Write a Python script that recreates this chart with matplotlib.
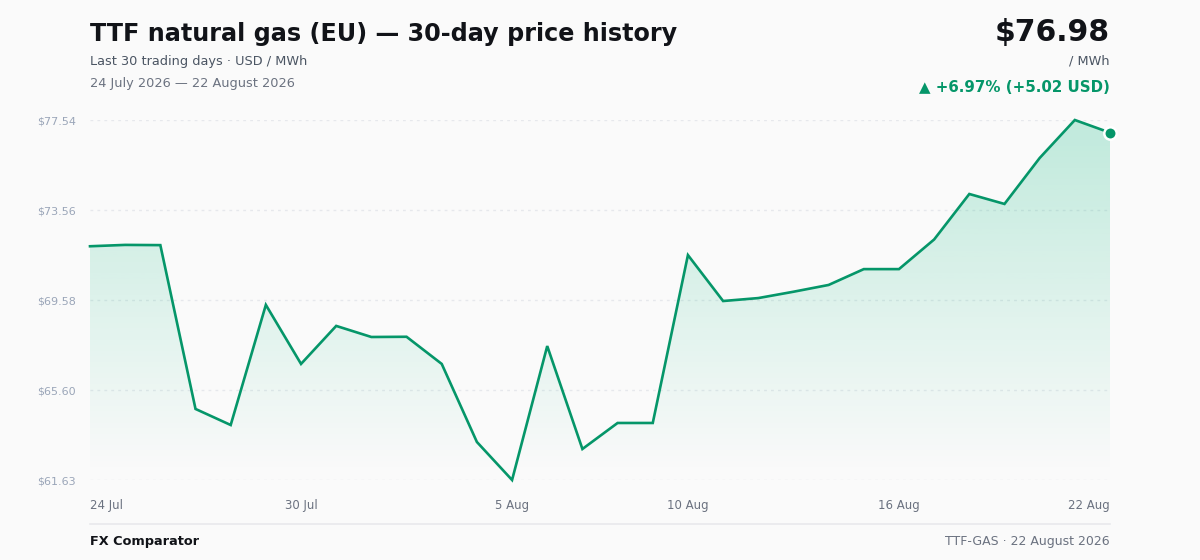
import numpy as np
import pandas as pd
import matplotlib
matplotlib.use("Agg")
import matplotlib.pyplot as plt
from matplotlib.lines import Line2D

# data
dates = pd.date_range("2026-07-24", "2026-08-22", freq="D")
prices = [71.96, 72.02, 72.01, 64.77, 64.06, 69.37, 66.76, 68.44, 67.95, 67.96,
          66.76, 63.31, 61.63, 67.55, 63.00, 64.15, 64.15, 71.57, 69.54, 69.67,
          69.95, 70.25, 70.95, 70.95, 72.26, 74.27, 73.83, 75.86, 77.54, 76.98]
y_ticks = [61.63, 65.60, 69.58, 73.56, 77.54]
x_tick_dates = ["2026-07-24", "2026-07-30", "2026-08-05", "2026-08-10", "2026-08-16", "2026-08-22"]
x_tick_labels = ["24 Jul", "30 Jul", "5 Aug", "10 Aug", "16 Aug", "22 Aug"]

title = "TTF natural gas (EU) — 30-day price history"
subtitle = "Last 30 trading days · USD / MWh"
date_range_txt = "24 July 2026 — 22 August 2026"
last_price = "$76.98"
unit = "/ MWh"
change_txt = "▲ +6.97% (+5.02 USD)"
brand = "FX Comparator"
footer_right = "TTF-GAS · 22 August 2026"

GREEN = "#059669"
BG = "#fafafa"
W, H = 1200, 560

plt.rcParams["font.family"] = ["DejaVu Sans"]

fig = plt.figure(figsize=(12, 5.6), dpi=100, facecolor=BG)

def px(x, y):
    return x / W, 1 - y / H

ax = fig.add_axes([90 / W, 80 / H, 1020 / W, 360 / H])
ax.set_facecolor(BG)

x = matplotlib.dates.date2num(dates)
y = np.array(prices)

ax.set_xlim(x[0], x[-1])
ax.set_ylim(y_ticks[0], y_ticks[-1])

# gradient fill under the line
poly = ax.fill_between(x, y, y_ticks[0], color="none", lw=0)
grad = np.zeros((256, 1, 4))
grad[:, 0, :3] = matplotlib.colors.to_rgb("#10b981")
grad[:, 0, 3] = np.linspace(0.25, 0.0, 256)
im = ax.imshow(grad, aspect="auto", extent=[x[0], x[-1], y_ticks[0] + 0.3, y_ticks[-1]],
               origin="upper", zorder=1)
im.set_clip_path(poly.get_paths()[0], transform=ax.transData)

ax.plot(x, y, color=GREEN, lw=1.9, zorder=3, clip_on=False, solid_joinstyle="miter")
ax.scatter([x[-1]], [y[-1]], s=80, color=GREEN, edgecolor="white", linewidth=1.8,
           zorder=4, clip_on=False)

ax.set_yticks(y_ticks)
ax.set_yticklabels([f"${v:.2f}" for v in y_ticks], fontsize=8, color="#9aa5b8")
ax.yaxis.grid(True, color="#e6e8ec", lw=1, linestyle=(0, (2, 3)))
ax.set_axisbelow(True)

xt = matplotlib.dates.date2num(pd.to_datetime(x_tick_dates))
ax.set_xticks(xt)
ax.set_xticklabels(x_tick_labels, fontsize=8.5, color="#6b7280")
labels = ax.get_xticklabels()
labels[0].set_ha("left")
labels[-1].set_ha("right")

ax.tick_params(axis="both", length=0)
ax.tick_params(axis="y", pad=10)
ax.tick_params(axis="x", pad=14)
for s in ax.spines.values():
    s.set_visible(False)

# header
fig.text(*px(90, 34), title, fontsize=17.2, fontweight="bold", color="#111318", va="center", ha="left")
fig.text(*px(90, 61), subtitle, fontsize=9.3, color="#4b5563", va="center", ha="left")
fig.text(*px(90, 83), date_range_txt, fontsize=9.3, color="#6b7280", va="center", ha="left")
fig.text(*px(1110, 32), last_price, fontsize=21.5, fontweight="bold", color="#111318", va="center", ha="right")
fig.text(*px(1110, 61), unit, fontsize=9.3, color="#4b5563", va="center", ha="right")
fig.text(*px(1110, 87), change_txt, fontsize=10.8, fontweight="bold", color=GREEN, va="center", ha="right")

# footer
fig.add_artist(Line2D([90 / W, 1110 / W], [1 - 524 / H, 1 - 524 / H], color="#e8e9ec", lw=1.2))
fig.text(*px(90, 541), brand, fontsize=9.3, fontweight="bold", color="#111318", va="center", ha="left")
fig.text(*px(1110, 541), footer_right, fontsize=9, color="#6b7280", va="center", ha="right")

fig.savefig("out.png", dpi=100, facecolor=BG)
